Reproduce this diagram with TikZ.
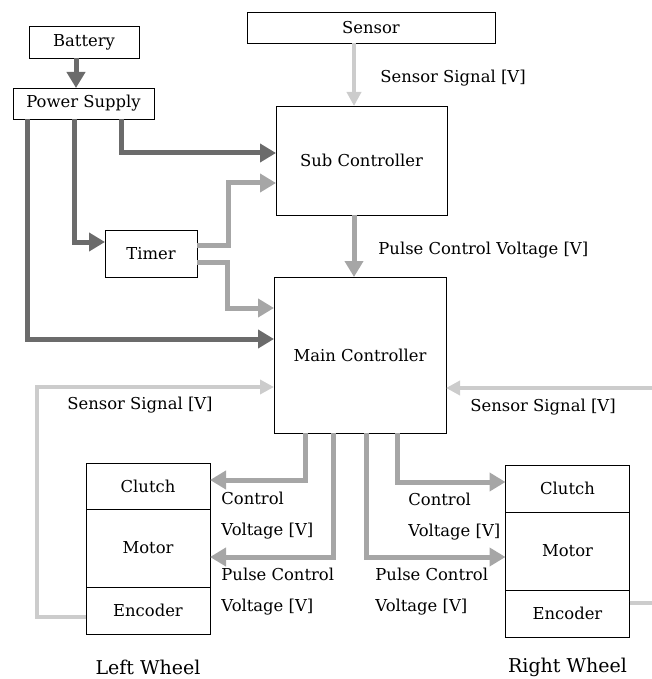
\documentclass[tikz,border=0pt]{standalone}
\usepackage{fontspec}
\setmainfont{DejaVu Serif}
\usetikzlibrary{positioning, arrows.meta, calc}

\begin{document}
\begin{tikzpicture}[
    x=0.5pt, y=-0.5pt,
    block/.style={rectangle, draw=black, thin, align=center, inner sep=0pt, outer sep=0pt, font=\fontsize{8.2}{10}\selectfont},
    part/.style={block, minimum width=62pt},
    power/.style={-{Triangle[length=8pt, width=9pt]}, line width=2.5pt, draw=black!58},
    signal/.style={-{Triangle[length=8pt, width=9pt]}, line width=2.5pt, draw=black!35},
    sensorsig/.style={-{Triangle[length=7pt, width=7pt]}, line width=2pt, draw=black!20},
    tag/.style={anchor=west, inner sep=0pt, align=left, font=\fontsize{8.2}{15.5}\selectfont},
    wheel/.style={inner sep=0pt, font=\fontsize{9.5}{11}\selectfont}
]
\useasboundingbox (0,0) rectangle (652,679);

% Nodes
\node[block, minimum width=55pt, minimum height=16pt] (battery) at (84,42) {Battery};
\node[block, minimum width=70.5pt, minimum height=15.5pt] (power) at (83.5,103.5) {Power Supply};
\node[block, minimum width=124pt, minimum height=15.5pt] (sensor) at (371,27.5) {Sensor};
\node[block, minimum width=85.5pt, minimum height=54.5pt] (sub) at (361.5,160.5) {Sub Controller};
\node[block, minimum width=46pt, minimum height=23.5pt] (timer) at (151,253.5) {Timer};
\node[block, minimum width=86pt, minimum height=78pt] (main) at (360,355) {Main Controller};

% Wheels
\node[part, minimum height=39pt] (lmotor) at (148,548) {Motor};
\node[part, minimum height=23pt, above=0pt of lmotor] (lclutch) {Clutch};
\node[part, minimum height=23.5pt, below=0pt of lmotor] (lenc) {Encoder};
\node[wheel] (lwheel) at (148,667) {Left Wheel};

\node[part, minimum height=39pt] (rmotor) at (567.5,551) {Motor};
\node[part, minimum height=23.5pt, above=0pt of rmotor] (rclutch) {Clutch};
\node[part, minimum height=23.5pt, below=0pt of rmotor] (renc) {Encoder};
\node[wheel] (rwheel) at (567.5,667) {Right Wheel};

% Bends
\coordinate (tup) at (228,214);
\coordinate (tdown) at (227,285);
\coordinate (lloop) at (37,387);
\coordinate (rout) at (656,603);
\coordinate (rin) at (656,388);

% Power lines
\draw[power] ($(battery.south)+(-8,0)$) -- ($(power.north)+(-7.5,0)$);
\draw[power] ($(power.south)+(37.5,0)$) |- ($(sub.west)+(0,-7.5)$);
\draw[power] ($(power.south)+(-9.5,0)$) |- ($(timer.west)+(0,-11.5)$);
\draw[power] ($(power.south)+(-56.5,0)$) |- ($(main.west)+(0,-16)$);

% Timer outputs
\draw[signal] ($(timer.east)+(0,-8.5)$) -| (tup) |- ($(sub.west)+(0,22.5)$);
\draw[signal] ($(timer.east)+(0,8.5)$) -| (tdown) |- ($(main.west)+(0,-47)$);

% Sensor and sub controller
\draw[sensorsig] ($(sensor.south)+(-17,0)$) -- ($(sub.north)+(-7.5,0)$);
\draw[signal] ($(sub.south)+(-7.5,0)$) -- ($(main.north)+(-6,0)$);

% Main controller outputs
\draw[signal] ($(main.south)+(-55,0)$) |- ($(lclutch.east)+(0,-6)$);
\draw[signal] ($(main.south)+(-27,0)$) |- ($(lmotor.east)+(0,9)$);
\draw[signal] ($(main.south)+(6,0)$) |- ($(rmotor.west)+(0,6)$);
\draw[signal] ($(main.south)+(37,0)$) |- ($(rclutch.west)+(0,-6.5)$);

% Encoder feedback
\draw[sensorsig] ($(lenc.west)+(0,6.5)$) -| (lloop) -- ($(main.west)+(0,32)$);
\draw[sensorsig, -] ($(renc.east)+(0,-10.5)$) -- (rout);
\draw[sensorsig] (rin) -- ($(main.east)+(0,33)$);

% Labels
\node[tag] (lsensor) at (380,78) {Sensor Signal [V]};
\node[tag] (lpulse) at (378,250) {Pulse Control Voltage [V]};
\node[tag] (lfeed) at (67,405) {Sensor Signal [V]};
\node[tag] (rfeed) at (470,407) {Sensor Signal [V]};
\node[tag, anchor=base west] (lctrl) at (221,535) {Control\\Voltage [V]};
\node[tag, anchor=base west] (lpcv) at (221,611) {Pulse Control\\Voltage [V]};
\node[tag, anchor=base west] (rctrl) at (408,536) {Control\\Voltage [V]};
\node[tag, anchor=base west] (rpcv) at (375,611) {Pulse Control\\Voltage [V]};

\end{tikzpicture}
\end{document}
